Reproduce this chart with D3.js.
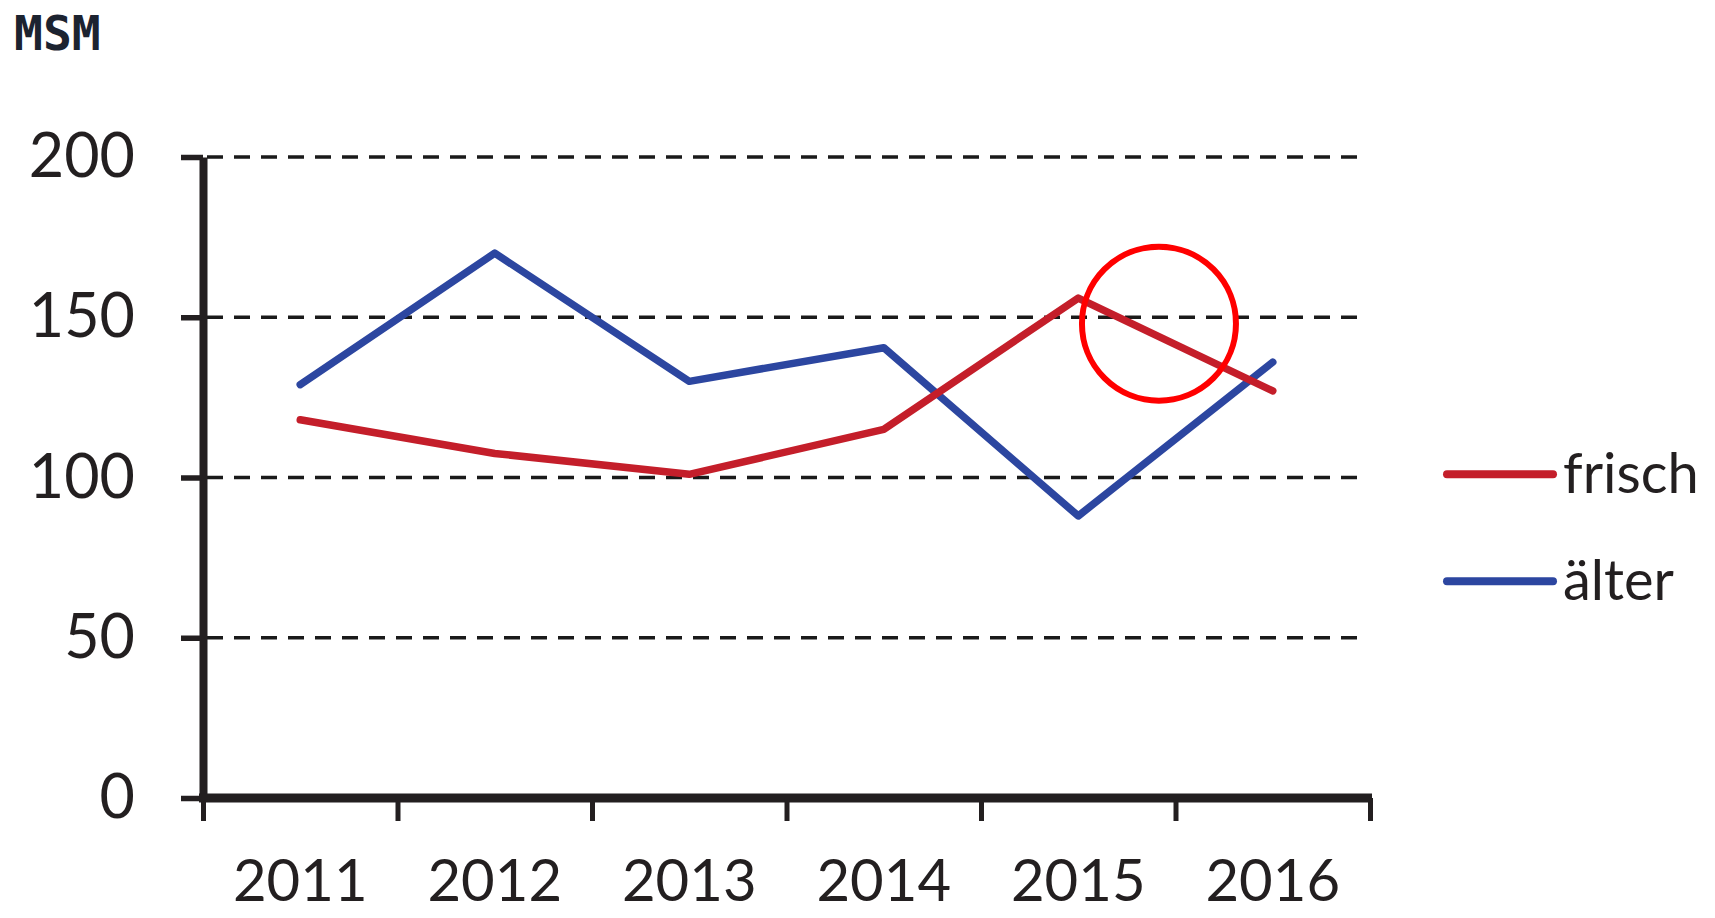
<!DOCTYPE html>
<html>
<head>
<meta charset="utf-8">
<script src="https://cdn.jsdelivr.net/npm/d3@7.9.0/dist/d3.min.js"></script>
<style>
  body { margin: 0; background: #fff; }
  svg { display: block; }
</style>
</head>
<body>
<div id="chart"></div>
<script>
// chart data
const years = ['2011', '2012', '2013', '2014', '2015', '2016'];
const frisch = [118, 107.5, 101, 115, 156, 127];
const aelter = [129, 170, 130, 140.5, 88, 136];
const yTicks = [0, 50, 100, 150, 200];
const seriesNames = ['frisch', 'älter'];

const width = 1715;
const height = 918;
const margin = { top: 157, right: 345, bottom: 120, left: 203 };

const svg = d3
  .select('#chart')
  .append('svg')
  .attr('width', width)
  .attr('height', height);

const xScale = d3
  .scaleBand()
  .domain(years)
  .range([margin.left, width - margin.right]);

const yScale = d3
  .scaleLinear()
  .domain([0, 200])
  .range([height - margin.bottom, margin.top]);

// category boundaries for the x tick marks
const xEdge = d3
  .scaleLinear()
  .domain([0, years.length])
  .range(xScale.range());

// title above the axis
svg
  .append('text')
  .attr('x', 14)
  .attr('y', 50)
  .attr('font-family', 'DejaVu Sans Mono')
  .attr('font-weight', 'bold')
  .attr('font-size', 48)
  .attr('fill', '#1c2330')
  .text('MSM');

// dashed gridlines
svg
  .append('g')
  .selectAll('line')
  .data(yTicks.filter((d) => d > 0))
  .join('line')
  .attr('x1', margin.left + 4)
  .attr('x2', width - margin.right - 10)
  .attr('y1', (d) => yScale(d))
  .attr('y2', (d) => yScale(d))
  .attr('stroke', '#1a1a1a')
  .attr('stroke-width', 3.5)
  .attr('stroke-dasharray', '16 11');

// Y axis
const yAxis = d3
  .axisLeft(yScale)
  .tickValues(yTicks)
  .tickSize(22)
  .tickSizeOuter(0)
  .tickPadding(46);

const gy = svg
  .append('g')
  .attr('transform', `translate(${margin.left}, 0)`)
  .call(yAxis);

gy.select('.domain').attr('stroke', '#231f20').attr('stroke-width', 8);
gy.selectAll('.tick line').attr('stroke', '#231f20').attr('stroke-width', 5.5);
gy.selectAll('.tick text')
  .attr('font-family', 'Lato')
  .attr('font-size', 61)
  .attr('fill', '#231f20');

// X axis line + ticks at boundaries
const xTickAxis = d3
  .axisBottom(xEdge)
  .tickValues(d3.range(years.length + 1))
  .tickSize(23)
  .tickSizeOuter(0)
  .tickFormat('');

const gx = svg
  .append('g')
  .attr('transform', `translate(0, ${height - margin.bottom})`)
  .call(xTickAxis);

gx.select('.domain')
  .attr('stroke', '#231f20')
  .attr('stroke-width', 9)
  .attr('d', `M${xEdge(0) - 4},0H${xEdge(years.length) + 2}`);
gx.selectAll('.tick line').attr('stroke', '#231f20').attr('stroke-width', 5);

// X labels at category centers
const xLabelAxis = d3.axisBottom(xScale).tickSize(0).tickPadding(62);
const gxl = svg
  .append('g')
  .attr('transform', `translate(0, ${height - margin.bottom})`)
  .call(xLabelAxis);
gxl.select('.domain').remove();
gxl.selectAll('.tick text')
  .attr('font-family', 'Lato')
  .attr('font-size', 58)
  .attr('fill', '#231f20');

// lines
const colors = { frisch: '#c41e2a', 'älter': '#2c46a0' };
const series = [
  { name: 'frisch', values: frisch },
  { name: 'älter', values: aelter },
];

const line = d3
  .line()
  .x((d, i) => xScale(years[i]) + xScale.bandwidth() / 2)
  .y((d) => yScale(d));

svg
  .append('g')
  .selectAll('path')
  .data(series.slice().reverse())
  .join('path')
  .attr('d', (d) => line(d.values))
  .attr('fill', 'none')
  .attr('stroke', (d) => colors[d.name])
  .attr('stroke-width', 7.5)
  .attr('stroke-linejoin', 'round')
  .attr('stroke-linecap', 'round');

// red highlight circle around the 2015 -> 2016 drop
const highlight = { from: '2015', offset: 0.415, value: 148 };
svg
  .append('circle')
  .attr('cx', xScale(highlight.from) + xScale.bandwidth() * (0.5 + highlight.offset))
  .attr('cy', yScale(highlight.value))
  .attr('r', 77)
  .attr('fill', 'none')
  .attr('stroke', '#ff0000')
  .attr('stroke-width', 6);

// legend
const legend = svg
  .append('g')
  .attr('transform', `translate(1447, ${yScale(101)})`);

const item = legend
  .selectAll('g')
  .data(seriesNames)
  .join('g')
  .attr('transform', (d, i) => `translate(0, ${i * 107})`);

item
  .append('line')
  .attr('x1', 0)
  .attr('x2', 106)
  .attr('stroke', (d) => colors[d])
  .attr('stroke-width', 8)
  .attr('stroke-linecap', 'round');

item
  .append('text')
  .attr('x', 116)
  .attr('y', 19)
  .attr('font-family', 'Lato')
  .attr('font-size', 56)
  .attr('fill', '#231f20')
  .text((d) => d);
</script>
</body>
</html>
